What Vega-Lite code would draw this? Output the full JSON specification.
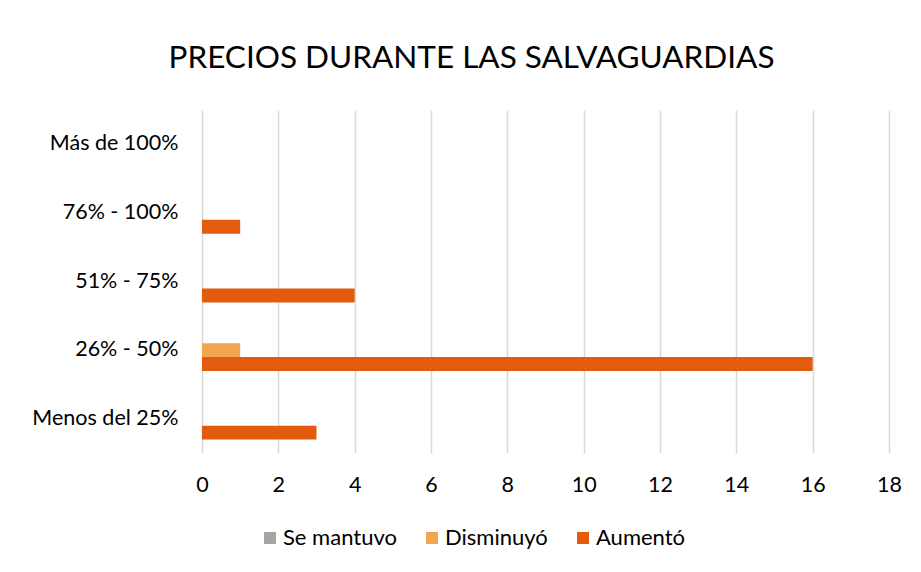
{
  "$schema": "https://vega.github.io/schema/vega-lite/v6.json",
  "width": 687,
  "height": 343,
  "autosize": {"type": "none"},
  "padding": {"left": 202, "top": 110, "right": 32, "bottom": 119},
  "background": "white",
  "title": {
    "text": "PRECIOS DURANTE LAS SALVAGUARDIAS",
    "font": "Lato",
    "fontSize": 31.5,
    "fontWeight": "normal",
    "color": "#000000",
    "anchor": "middle",
    "frame": "group",
    "dx": -74,
    "offset": 36
  },
  "data": {
    "values": [
      {"rango": "Menos del 25%", "serie": "Se mantuvo", "valor": 0},
      {"rango": "Menos del 25%", "serie": "Disminuyó", "valor": 0},
      {"rango": "Menos del 25%", "serie": "Aumentó", "valor": 3},
      {"rango": "26% - 50%\u00a0", "serie": "Se mantuvo", "valor": 0},
      {"rango": "26% - 50%\u00a0", "serie": "Disminuyó", "valor": 1},
      {"rango": "26% - 50%\u00a0", "serie": "Aumentó", "valor": 16},
      {"rango": "51% - 75%", "serie": "Se mantuvo", "valor": 0},
      {"rango": "51% - 75%", "serie": "Disminuyó", "valor": 0},
      {"rango": "51% - 75%", "serie": "Aumentó", "valor": 4},
      {"rango": "76% - 100%", "serie": "Se mantuvo", "valor": 0},
      {"rango": "76% - 100%", "serie": "Disminuyó", "valor": 0},
      {"rango": "76% - 100%", "serie": "Aumentó", "valor": 1},
      {"rango": "Más de 100%", "serie": "Se mantuvo", "valor": 0},
      {"rango": "Más de 100%", "serie": "Disminuyó", "valor": 0},
      {"rango": "Más de 100%", "serie": "Aumentó", "valor": 0}
    ]
  },
  "mark": {"type": "bar", "cornerRadius": 0},
  "encoding": {
    "y": {
      "field": "rango",
      "type": "nominal",
      "sort": ["Más de 100%", "76% - 100%", "51% - 75%", "26% - 50%\u00a0", "Menos del 25%"],
      "scale": {"paddingInner": 0.39, "paddingOuter": 0.195},
      "axis": {
        "title": null,
        "domain": false,
        "ticks": false,
        "grid": false,
        "labelFont": "Lato",
        "labelFontSize": 21.5,
        "labelColor": "#000000",
        "labelPadding": 24
      }
    },
    "yOffset": {
      "field": "serie",
      "type": "nominal",
      "sort": ["Se mantuvo", "Disminuyó", "Aumentó"],
      "scale": {"paddingInner": 0, "paddingOuter": 0}
    },
    "x": {
      "field": "valor",
      "type": "quantitative",
      "scale": {"domain": [0, 18], "nice": false},
      "axis": {
        "title": null,
        "values": [0, 2, 4, 6, 8, 10, 12, 14, 16, 18],
        "domain": false,
        "ticks": false,
        "grid": true,
        "gridColor": "#d9d9d9",
        "gridWidth": 1.5,
        "labelFlush": false,
        "labelFont": "Lato",
        "labelFontSize": 21.5,
        "labelColor": "#000000",
        "labelPadding": 21
      }
    },
    "color": {
      "field": "serie",
      "type": "nominal",
      "sort": ["Se mantuvo", "Disminuyó", "Aumentó"],
      "scale": {
        "domain": ["Se mantuvo", "Disminuyó", "Aumentó"],
        "range": ["#a5a5a5", "#f2a550", "#e35b0c"]
      },
      "legend": {
        "title": null,
        "orient": "none",
        "direction": "horizontal",
        "legendX": 57,
        "legendY": 417,
        "symbolType": "square",
        "symbolSize": 144,
        "symbolStrokeWidth": 0,
        "symbolOpacity": 1,
        "labelFont": "Lato",
        "labelFontSize": 22,
        "labelColor": "#000000",
        "labelOffset": 2,
        "columnPadding": 24
      }
    }
  },
  "config": {
    "view": {"stroke": null}
  }
}
